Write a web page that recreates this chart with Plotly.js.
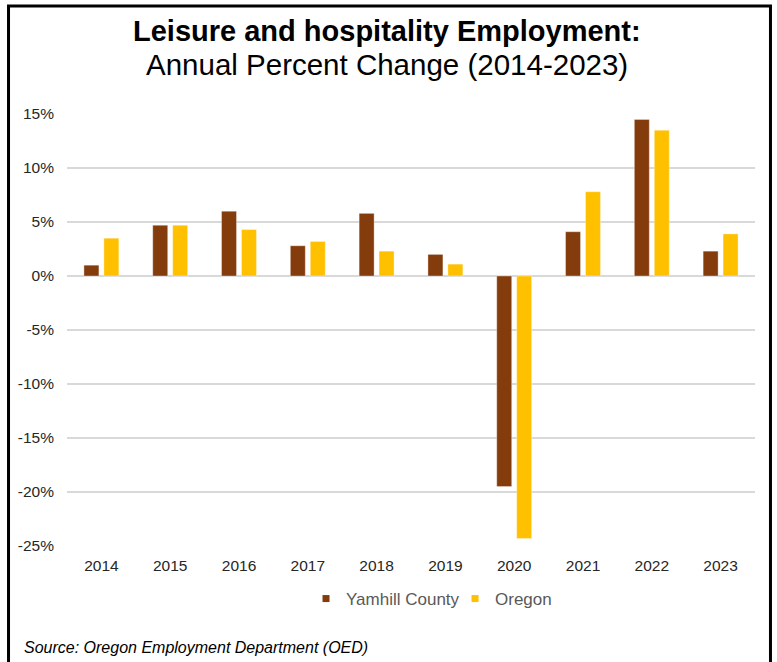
<!DOCTYPE html>
<html>
<head>
<meta charset="utf-8">
<script src="https://cdn.plot.ly/plotly-3.0.1.min.js"></script>
<style>
  html, body { margin: 0; padding: 0; background: #fff; }
  #chart { width: 777px; height: 662px; }
</style>
</head>
<body>
<div id="chart"></div>
<script>
const years = ['2014','2015','2016','2017','2018','2019','2020','2021','2022','2023'];
const yamhill = [1.0, 4.7, 6.0, 2.8, 5.8, 2.0, -19.5, 4.1, 14.5, 2.3];
const oregon  = [3.5, 4.7, 4.3, 3.2, 2.3, 1.1, -24.3, 7.8, 13.5, 3.9];
const yTickVals = [-25, -20, -15, -10, -5, 0, 5, 10, 15];
const yTickText = ['-25%', '-20%', '-15%', '-10%', '-5%', '0%', '5%', '10%', '15%'];
const seriesNames = ['Yamhill County', 'Oregon'];
const seriesColors = ['#843C0C', '#FFC000'];
const titleLine1 = 'Leisure and hospitality Employment:';
const titleLine2 = 'Annual Percent Change (2014-2023)';
const sourceText = 'Source: Oregon Employment Department (OED)';

const FONT = 'Liberation Sans, Arial, sans-serif';

const traces = [
  {
    type: 'bar', name: seriesNames[0], x: years, y: yamhill, showlegend: false,
    marker: { color: seriesColors[0], line: { width: 1, color: 'rgba(255,255,255,0.35)' } }
  },
  {
    type: 'bar', name: seriesNames[1], x: years, y: oregon, showlegend: false,
    marker: { color: seriesColors[1], line: { width: 1, color: 'rgba(255,255,255,0.35)' } }
  },
  // legend entries (small square keys)
  {
    type: 'scatter', mode: 'markers', name: seriesNames[0], x: [null], y: [null],
    marker: { symbol: 'square', size: 7, color: seriesColors[0] }, legend: 'legend'
  },
  {
    type: 'scatter', mode: 'markers', name: seriesNames[1], x: [null], y: [null],
    marker: { symbol: 'square', size: 7, color: seriesColors[1] }, legend: 'legend2'
  }
];

const legendFont = { family: FONT, size: 17, color: '#595959' };

const layout = {
  width: 777, height: 662,
  margin: { l: 67, r: 22, t: 114, b: 116, pad: 0 },
  paper_bgcolor: '#ffffff', plot_bgcolor: '#ffffff',
  font: { family: FONT, color: '#333333', size: 15 },
  barmode: 'group', bargap: 0.42, bargroupgap: 0.25,
  showlegend: true,
  legend: {
    orientation: 'h', x: 0.3474, xanchor: 'left', y: -0.1227, yanchor: 'middle',
    font: legendFont, itemwidth: 30, bgcolor: 'rgba(0,0,0,0)'
  },
  legend2: {
    orientation: 'h', x: 0.564, xanchor: 'left', y: -0.1227, yanchor: 'middle',
    font: legendFont, itemwidth: 30, bgcolor: 'rgba(0,0,0,0)'
  },
  xaxis: {
    type: 'category', showgrid: false, zeroline: false, showline: false,
    ticks: '', tickfont: { family: FONT, size: 15.5, color: '#262626' },
    ticklabelstandoff: 8, fixedrange: true
  },
  yaxis: {
    range: [-25, 15], tickvals: yTickVals, ticktext: yTickText,
    showgrid: true, gridcolor: '#d9d9d9', gridwidth: 1.3,
    zeroline: true, zerolinecolor: '#d9d9d9', zerolinewidth: 1.3,
    showline: false, ticks: '',
    tickfont: { family: FONT, size: 15.5, color: '#262626' },
    ticklabelstandoff: 12, fixedrange: true
  },
  annotations: [
    { text: '<b>' + titleLine1 + '</b>', xref: 'paper', yref: 'paper',
      x: 0.465, xanchor: 'center', y: 1.193, yanchor: 'middle', showarrow: false,
      font: { family: FONT, size: 29, color: '#000000' } },
    { text: titleLine2, xref: 'paper', yref: 'paper',
      x: 0.465, xanchor: 'center', y: 1.115, yanchor: 'middle', showarrow: false,
      font: { family: FONT, size: 29.5, color: '#000000' } },
    { text: '<i>' + sourceText + '</i>', xref: 'paper', yref: 'paper',
      x: -0.0654, xanchor: 'left', y: -0.236, yanchor: 'middle', showarrow: false,
      font: { family: FONT, size: 16, color: '#000000' } }
  ],
  shapes: [
    { type: 'path', xref: 'paper', yref: 'paper',
      path: 'M -0.0850,-0.30 L -0.0850,1.2500 L 1.0225,1.2500 L 1.0225,-0.30',
      line: { color: '#000000', width: 3 } }
  ]
};

Plotly.newPlot('chart', traces, layout, { displayModeBar: false, staticPlot: true });
</script>
</body>
</html>
